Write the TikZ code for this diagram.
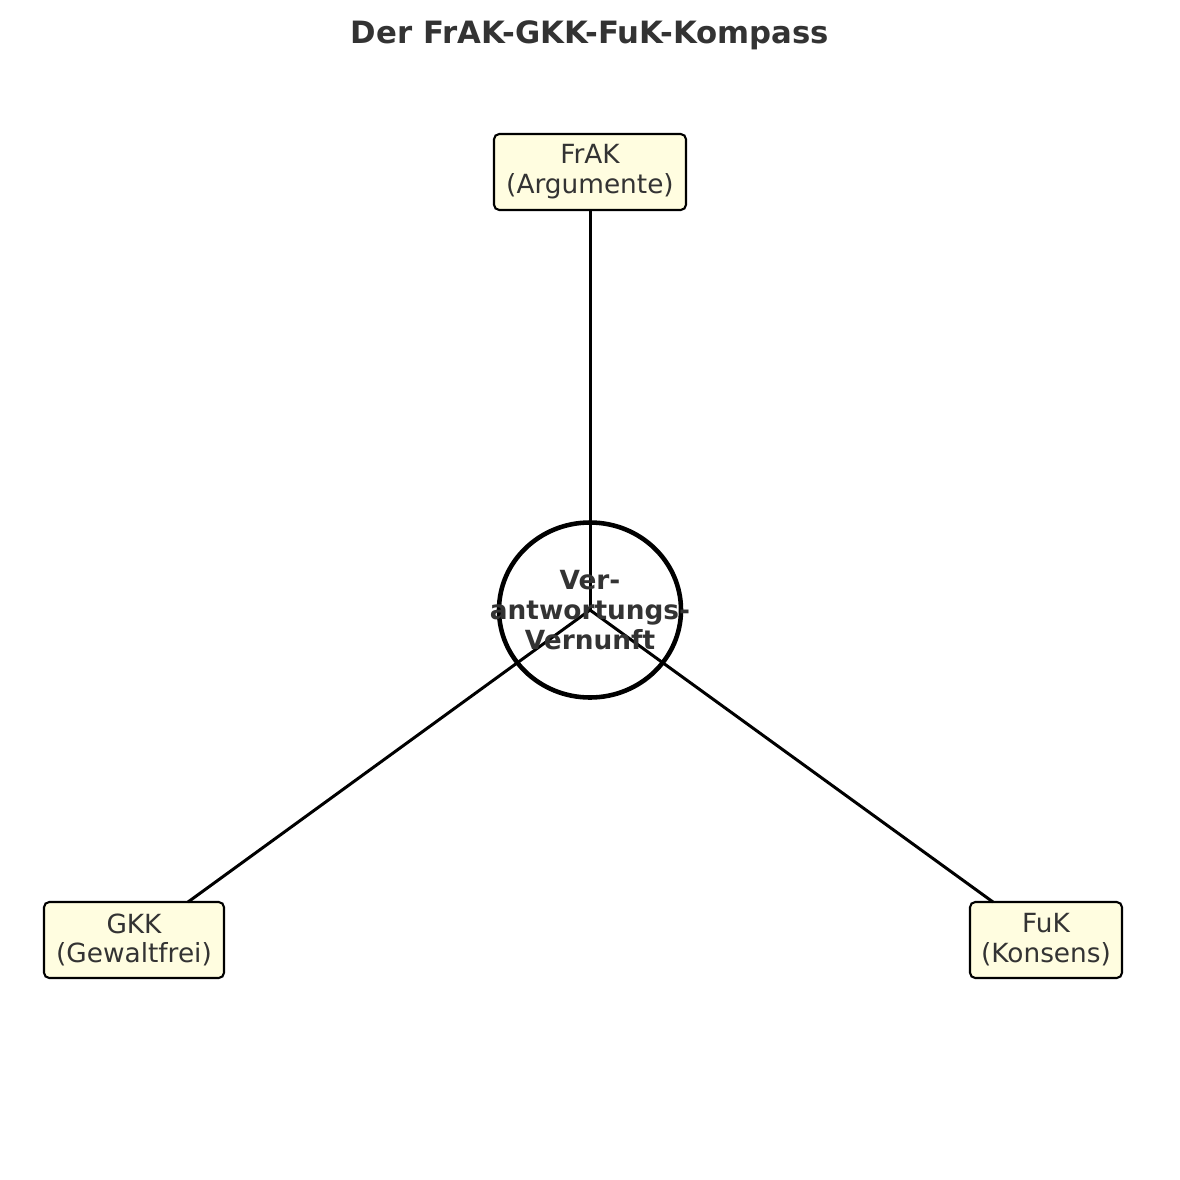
\documentclass[tikz,border=0pt]{standalone}
\usepackage{fontspec}
\setmainfont{DejaVu Sans}
\begin{document}
\begin{tikzpicture}[x=0.02cm,y=-0.02cm,
  txt/.style={text=black!80},
  box/.style={draw,line width=1.2pt,rounded corners=3pt,fill=yellow!12,txt,font=\fontsize{15}{17}\selectfont,align=center,inner sep=0pt},
  conn/.style={line width=1.7pt}]
\useasboundingbox (0,0) rectangle (1180,1180);
\node[txt,font=\bfseries\fontsize{17.5}{20}\selectfont] (title) at (590,35) {Der FrAK-GKK-FuK-Kompass};
\node[box,minimum width=192*0.02cm,minimum height=76*0.02cm] (frak) at (590,172) {FrAK\\(Argumente)};
\node[box,minimum width=180*0.02cm,minimum height=76*0.02cm] (gkk) at (134,940) {GKK\\(Gewaltfrei)};
\node[box,minimum width=152*0.02cm,minimum height=76*0.02cm] (fuk) at (1046,940) {FuK\\(Konsens)};
\coordinate (c) at (590,610);
\coordinate (ge) at (188,902);
\coordinate (fe) at (993,902);
\draw[conn] (c) -- (frak.south);
\draw[conn] (c) -- (ge);
\draw[conn] (c) -- (fe);
\draw[line width=2.6pt] (c) ellipse (91 and 87.5);
\node[txt,font=\bfseries\fontsize{15}{17}\selectfont,align=center] (v) at (c) {Ver-\\antwortungs-\\Vernunft};
\end{tikzpicture}
\end{document}
